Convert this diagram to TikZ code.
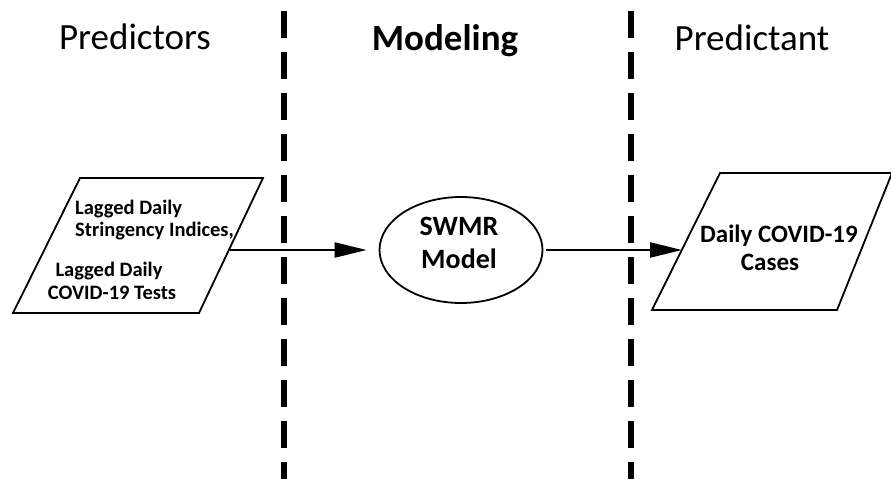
\documentclass[tikz,border=0pt]{standalone}
\usepackage{fontspec}
\setmainfont{Carlito}
\usetikzlibrary{arrows.meta,shapes.geometric}
\begin{document}
\begin{tikzpicture}[x=1pt,y=-1pt,
  title/.style={font=\fontsize{37}{40}\selectfont, anchor=base, inner sep=0pt},
  divider/.style={line width=6.5pt, dash pattern=on 27pt off 14pt},
  shapeline/.style={line width=1.8pt, line join=miter},
  boxtext/.style={font=\bfseries\fontsize{20.5}{24}\selectfont, anchor=base, inner sep=0pt},
  flow/.style={line width=2.3pt, -{Triangle[length=32pt,width=15pt]}}]
\useasboundingbox (0,0) rectangle (891,479);
% titles
\node[title] (t1) at (135,49) {Predictors};
\node[title] (t2) at (445,50) {\bfseries Modeling};
\node[title] (t3) at (752,50) {Predictant};
% dividers
\coordinate (d1a) at (284,11); \coordinate (d1b) at (284,479);
\coordinate (d2a) at (631,11); \coordinate (d2b) at (631,479);
\draw[divider] (d1a) -- (d1b);
\draw[divider] (d2a) -- (d2b);
% left parallelogram
\coordinate (p1) at (80,178); \coordinate (p2) at (263,178);
\coordinate (p3) at (199,313); \coordinate (p4) at (13,313);
\draw[shapeline] (p1) -- (p2) -- (p3) -- (p4) -- cycle;
\node[boxtext, anchor=base west] (l1) at (75,214) {Lagged Daily};
\node[boxtext, anchor=base west] (l2) at (75,236) {Stringency Indices,};
\node[boxtext] (l3) at (109,276) {Lagged Daily};
\node[boxtext] (l4) at (112,299) {COVID-19 Tests};
% ellipse
\node[draw, shapeline, ellipse, minimum width=163pt, minimum height=106pt, inner sep=0pt] (model) at (461,250) {};
\node[font=\bfseries\fontsize{28}{32}\selectfont, anchor=base, inner sep=0pt] (m1) at (459,235) {SWMR};
\node[font=\bfseries\fontsize{28}{32}\selectfont, anchor=base, inner sep=0pt] (m2) at (459,268) {Model};
% right parallelogram
\coordinate (q1) at (720,173); \coordinate (q2) at (892,173);
\coordinate (q3) at (837,310); \coordinate (q4) at (652,310);
\draw[shapeline] (q1) -- (q2) -- (q3) -- (q4) -- cycle;
\node[font=\bfseries\fontsize{25}{28}\selectfont, anchor=base, inner sep=0pt] (r1) at (779,242) {Daily COVID-19};
\node[font=\bfseries\fontsize{25}{28}\selectfont, anchor=base, inner sep=0pt] (r2) at (770,270) {Cases};
% connectors
\coordinate (outL) at (230,250);
\coordinate (inR) at (682,250);
\draw[flow, shorten >=12pt] (outL) -- (model.west);
\draw[flow, shorten <=3pt] (model.east) -- (inR);
\end{tikzpicture}
\end{document}
